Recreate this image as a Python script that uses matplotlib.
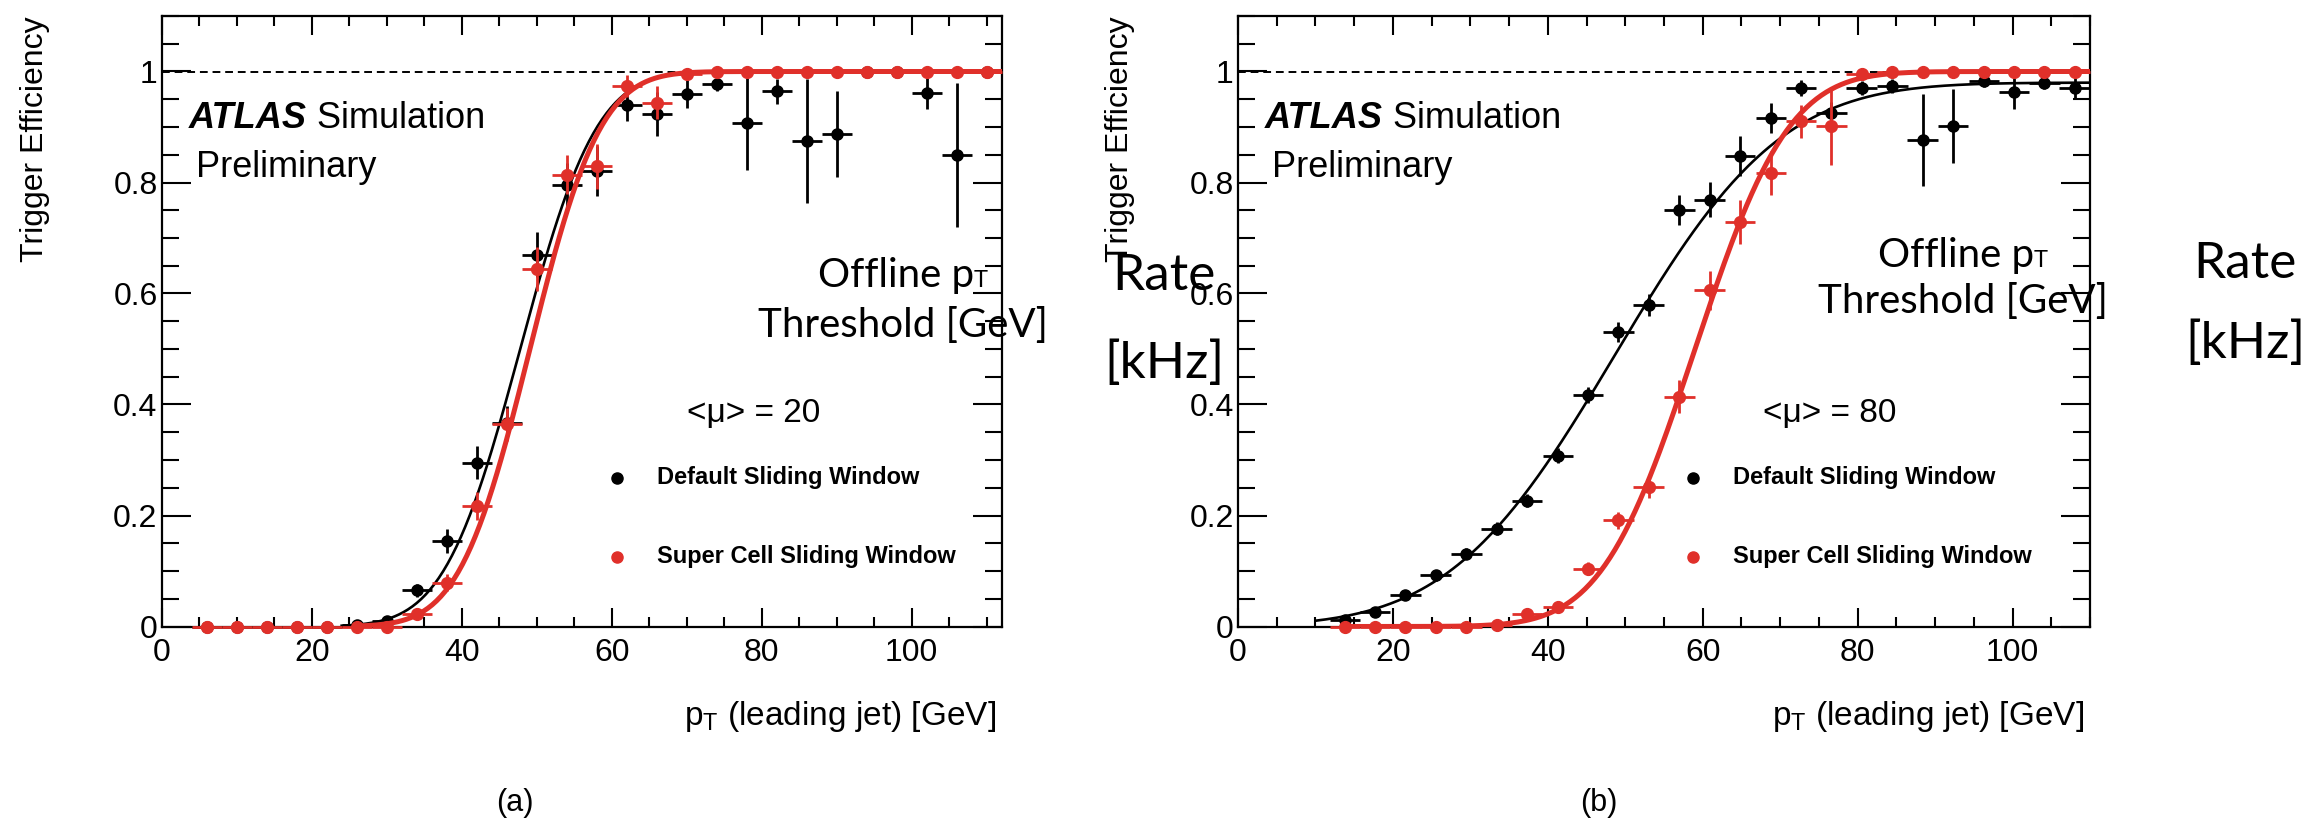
import math
import numpy as np
import matplotlib
matplotlib.use('Agg')
import matplotlib.pyplot as plt
from matplotlib import font_manager
from matplotlib.ticker import MultipleLocator, FuncFormatter

# -----------------------------
# Data: trigger efficiency vs leading-jet pT
# -----------------------------
# (a) <mu> = 20, 4 GeV bins
pt_a = [6, 10, 14, 18, 22, 26, 30, 34, 38, 42, 46, 50, 54, 58, 62, 66, 70,
        74, 78, 82, 86, 90, 94, 98, 102, 106, 110]
eff_default_a = [0, 0, 0, 0, 0, 0.002, 0.01, 0.065, 0.154, 0.295, 0.367, 0.67,
                 0.796, 0.82, 0.94, 0.923, 0.959, 0.977, 0.907, 0.964, 0.875,
                 0.887, 1.0, 1.0, 0.962, 0.85, 1.0]
err_default_a = [0, 0, 0, 0, 0, 0.002, 0.005, 0.012, 0.022, 0.03, 0.03, 0.04,
                 0.04, 0.045, 0.03, 0.04, 0.025, 0.012, 0.085, 0.022, 0.112,
                 0.077, 0, 0, 0.03, 0.13, 0]
eff_super_a = [0, 0, 0, 0, 0, 0, 0, 0.022, 0.079, 0.217, 0.364, 0.644, 0.814,
               0.829, 0.974, 0.944, 0.995, 1, 1, 1, 1, 1, 1, 1, 1, 1, 1]
err_super_a = [0, 0, 0, 0, 0, 0, 0, 0.008, 0.015, 0.025, 0.03, 0.04, 0.035,
               0.04, 0.02, 0.03, 0.005, 0, 0, 0, 0, 0, 0, 0, 0, 0, 0]

# (b) <mu> = 80, 110/28 GeV bins
pt_b = [13.8, 17.7, 21.6, 25.5, 29.5, 33.4, 37.3, 41.3, 45.2, 49.1, 53.0, 57.0,
        60.9, 64.8, 68.8, 72.7, 76.6, 80.5, 84.5, 88.4, 92.3, 96.3, 100.2,
        104.1, 108.0]
eff_default_b = [0.012, 0.026, 0.056, 0.092, 0.131, 0.176, 0.227, 0.308, 0.417,
                 0.531, 0.579, 0.751, 0.769, 0.847, 0.916, 0.970, 0.925, 0.970,
                 0.974, 0.877, 0.902, 0.982, 0.963, 0.979, 0.970]
err_default_b = [0.004, 0.006, 0.008, 0.01, 0.01, 0.012, 0.012, 0.014, 0.015,
                 0.018, 0.02, 0.027, 0.032, 0.036, 0.027, 0.015, 0.02, 0.012,
                 0.012, 0.083, 0.066, 0.01, 0.03, 0.01, 0.02]
eff_super_b = [0, 0, 0, 0, 0, 0.002, 0.023, 0.035, 0.104, 0.191, 0.251, 0.414,
               0.606, 0.729, 0.817, 0.910, 0.901, 0.996, 1, 1, 1, 1, 1, 1, 1]
err_super_b = [0, 0, 0, 0, 0, 0.002, 0.006, 0.008, 0.012, 0.016, 0.02, 0.03,
               0.035, 0.04, 0.04, 0.03, 0.07, 0.004, 0, 0, 0, 0, 0, 0, 0]

# erf turn-on fit results: (midpoint, width, plateau)
fit_default_a = (47.8, 8.0, 1.0)
fit_super_a = (49.1, 7.4, 1.0)
fit_default_b = (48.7, 16.8, 0.98)
fit_super_b = (59.0, 9.5, 1.0)

RED = '#e0302a'
W, H = 2316, 825

sans = 'Liberation Sans'
try:
    font_manager.findfont(font_manager.FontProperties(family='Liberation Sans Narrow'),
                          fallback_to_default=False)
    narrow, legend_size = 'Liberation Sans Narrow', 20
except ValueError:
    narrow, legend_size = 'Liberation Sans', 17

# font for the threshold / rate annotations
light = dict(family=['Lato', 'DejaVu Sans'], fontweight='normal')

plt.rcParams['font.family'] = [sans, 'DejaVu Sans']
plt.rcParams['mathtext.fontset'] = 'custom'
plt.rcParams['mathtext.rm'] = sans
plt.rcParams['mathtext.it'] = sans + ':italic'

fig = plt.figure(figsize=(W / 100, H / 100), dpi=100)
renderer = fig.canvas.get_renderer()


def fpos(x, y):
    return x / W, 1 - y / H


def turn_on(x, fit):
    m, s, p = fit
    return np.array([p * 0.5 * (1 + math.erf((v - m) / (math.sqrt(2) * s))) for v in x])


def make_text(x, y, s, size, style, **kw):
    return fig.text(*fpos(x, y), s, color='black', zorder=20, fontsize=size, **kw, **style)


def text_pair(x, y, first, second, size1, size2, style1, style2, align='left'):
    t1 = make_text(0, 0, first, size1, style1, va='baseline')
    t2 = make_text(0, 0, second, size2, style2, va='baseline')
    w1 = t1.get_window_extent(renderer).width
    w2 = t2.get_window_extent(renderer).width
    x0 = x - (w1 + w2) / 2 if align == 'center' else x
    t1.set_position(fpos(x0, y))
    t2.set_position(fpos(x0 + w1, y))


def draw_panel(box, xmax, bw, pt, eff_d, err_d, eff_s, err_s, fit_d, fit_s,
               curve_d, curve_s, mu, ylabel_x):
    left, right, top, bottom = box
    ax = fig.add_axes([left / W, 1 - bottom / H, (right - left) / W, (bottom - top) / H])
    ax.set_xlim(0, xmax)
    ax.set_ylim(0, 1.1)

    ax.axhline(1, color='black', lw=1.4, ls=(0, (4, 2.5)), zorder=1)

    ax.errorbar(pt, eff_d, xerr=bw / 2, yerr=err_d, fmt='o', color='black',
                ms=8, elinewidth=2, capsize=0, clip_on=False, zorder=3)
    xd = np.linspace(curve_d, xmax, 300)
    ax.plot(xd, turn_on(xd, fit_d), color='black', lw=1.9, zorder=4)

    ax.errorbar(pt, eff_s, xerr=bw / 2, yerr=err_s, fmt='o', color=RED,
                ms=8.5, elinewidth=2, capsize=0, clip_on=False, zorder=5)
    xs = np.linspace(curve_s, xmax, 300)
    ax.plot(xs, turn_on(xs, fit_s), color=RED, lw=3.6, zorder=6)

    ax.xaxis.set_major_locator(MultipleLocator(20))
    ax.xaxis.set_minor_locator(MultipleLocator(5))
    ax.yaxis.set_major_locator(MultipleLocator(0.2))
    ax.yaxis.set_minor_locator(MultipleLocator(0.05))
    ax.yaxis.set_major_formatter(FuncFormatter(lambda v, p: '%g' % round(v, 2)))
    ax.tick_params(which='both', direction='in', top=True, right=True,
                   width=1.5, labelsize=23)
    ax.tick_params(axis='y', which='major', length=21, pad=3)
    ax.tick_params(axis='y', which='minor', length=12)
    ax.tick_params(axis='x', which='major', length=13.5, pad=8)
    ax.tick_params(axis='x', which='minor', length=7.5)
    for sp in ax.spines.values():
        sp.set_linewidth(1.6)

    ax.set_ylabel('Trigger Efficiency', fontsize=23, loc='top')
    ax.yaxis.set_label_coords((ylabel_x - left) / (right - left), 1.0)
    ax.yaxis.label.set_verticalalignment('center')
    ax.set_xlabel(r'p$_{\mathrm{T}}$ (leading jet) [GeV]', fontsize=24, loc='right')
    ax.xaxis.set_label_coords((right - 6 - left) / (right - left),
                              -(717 - bottom) / (bottom - top))
    ax.xaxis.label.set_verticalalignment('center')

    # ATLAS label
    text_pair(left + 27, 128, 'ATLAS', ' Simulation', 26, 26,
              dict(fontweight='bold', fontstyle='italic'), {})
    make_text(left + 34, 177, 'Preliminary', 26, {}, va='baseline')

    make_text(left + 525, 413, '<μ> = %d' % mu, 24, {}, va='center')

    # legend
    for yy, col, lab in [(478, 'black', 'Default Sliding Window'),
                         (557, RED, 'Super Cell Sliding Window')]:
        ax.plot([455 / (right - left)], [(bottom - yy) / (bottom - top)],
                'o', color=col, ms=8, transform=ax.transAxes, clip_on=False)
        make_text(left + 495, yy, lab, legend_size,
                  dict(fontweight='bold', family=[narrow, sans]), va='center')
    return ax


ax_a = draw_panel((161.7, 1001.7, 16, 626.5), 112, 4.0, pt_a,
                  eff_default_a, err_default_a, eff_super_a, err_super_a,
                  fit_default_a, fit_super_a, 24, 26, 20, 35)
ax_b = draw_panel((1238, 2090, 16, 626.5), 110, 110 / 28, pt_b,
                  eff_default_b, err_default_b, eff_super_b, err_super_b,
                  fit_default_b, fit_super_b, 10, 14, 80, 1120)

make_text(515, 803, '(a)', 22, {}, ha='center', va='center')
make_text(1599, 803, '(b)', 22, {}, ha='center', va='center')

# threshold / rate annotations
for cx, y1, y2, rx, r1, r2 in [(903, 287, 337, 1164, 290, 378),
                               (1963, 267, 313, 2245, 278, 358)]:
    text_pair(cx, y1, 'Offline p', 'T', 29, 17, light, light, align='center')
    make_text(cx, y2, 'Threshold [GeV]', 29, light, ha='center', va='baseline')
    make_text(rx, r1, 'Rate', 37, light, ha='center', va='baseline')
    make_text(rx, r2, '[kHz]', 37, light, ha='center', va='baseline')

fig.savefig('out.png', dpi=100)
